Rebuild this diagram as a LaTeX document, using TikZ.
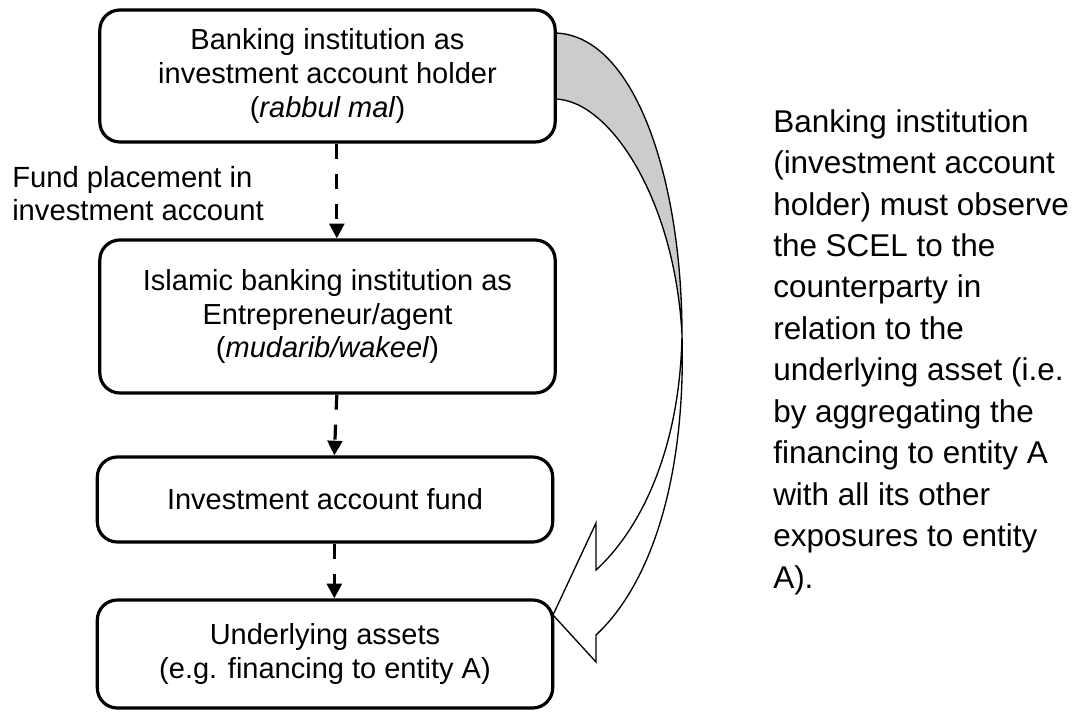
\documentclass[tikz,border=0pt]{standalone}
\usepackage{fontspec}
\setmainfont{Liberation Sans}
\usetikzlibrary{arrows.meta}

\begin{document}
\begin{tikzpicture}[x=0.75pt,y=-0.75pt,
    box/.style={draw,line width=2.4pt,rounded corners=15pt,minimum width=341.5pt,
      align=center,inner sep=0pt,font=\fontsize{21.75}{25.2}\selectfont},
    flow/.style={line width=2.4pt,dash pattern=on 11.25pt off 11.25pt,
      -{Triangle[length=11pt,width=11pt]}}]
      \useasboundingbox (0,0) rectangle (1079,720);

      % curved block arrow
      \filldraw[fill=black!20,line width=1pt] (555,33) .. controls (635,35) and (682,180) .. (682,335)
        .. controls (675,200) and (610,100) .. (555,99) -- cycle;
      \filldraw[fill=white,line width=1pt] (682,335) .. controls (686,480) and (650,585) .. (596,635)
        -- (596,662) -- (553,615) -- (596,523) -- (596,570)
        .. controls (640,530) and (680,450) .. (682,335) -- cycle;

      \node[box,minimum height=99pt] (holder) at (327.5,76)
        {Banking institution as\\investment account holder\\(\textit{rabbul mal})};
      \node[box,minimum height=114.75pt] (mudarib) at (327.5,316.5)
        {Islamic banking institution as\\Entrepreneur/agent\\(\textit{mudarib/wakeel})};
      \node[box,minimum height=63.75pt] (fund) at (325,499.5) {Investment account fund};
      \node[box,minimum height=81pt] (assets) at (325,654)
        {Underlying assets\\(e.g. financing to entity A)};

      \draw[flow] ([xshift=7pt]holder.south) -- ([xshift=7pt]mudarib.north);
      \draw[flow] ([xshift=7pt]mudarib.south) -- ([xshift=7pt]fund.north);
      \draw[flow] ([xshift=7pt]fund.south) -- ([xshift=7pt]assets.north);

      \node[anchor=north west,inner sep=0pt,align=left,font=\fontsize{21.9}{24.75}\selectfont]
        (placement) at (12,166) {Fund placement in\\investment account};
      \node[anchor=north west,inner sep=0pt,align=left,font=\fontsize{23.6}{31.1}\selectfont]
        (note) at (773,109) {Banking institution\\(investment account\\holder) must observe\\the SCEL to the\\counterparty in\\relation to the\\underlying asset (i.e.\\by aggregating the\\financing to entity A\\with all its other\\exposures to entity\\A).};
    \end{tikzpicture}
\end{document}
